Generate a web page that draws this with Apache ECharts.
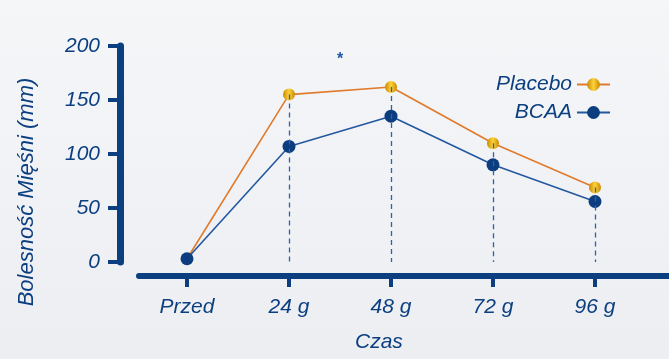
<!DOCTYPE html>
<html><head><meta charset="utf-8">
<script src="https://cdn.jsdelivr.net/npm/echarts@6/dist/echarts.min.js"></script>
<style>
html,body{margin:0;padding:0;}
body{background:linear-gradient(#f5f6f8,#eceef2);}
#c{width:669px;height:359px;}
</style></head>
<body><div id="c"></div>
<script>
const categories = ['Przed', '24 g', '48 g', '72 g', '96 g'];
const placebo = [3, 155, 162, 110, 69];
const bcaa = [3, 107, 135, 90, 56];
const yTicks = [0, 50, 100, 150, 200];
const seriesNames = ['Placebo', 'BCAA'];
const yName = 'Bolesność Mięśni (mm)';
const xName = 'Czas';

const NAVY = '#0c3f80';
const FONT = '"Liberation Sans", Arial, sans-serif';
const chart = echarts.init(document.getElementById('c'));

const dashData = categories.slice(1).map((c, i) => [
  { coord: [c, placebo[i + 1]] },
  { coord: [c, 0] }
]);

chart.setOption({
  backgroundColor: 'transparent',
  animation: false,
  grid: [
    { left: 136, right: 23, top: 46, bottom: 97 },
    { left: 139, right: 0, top: 46, bottom: 97 }
  ],
  xAxis: [
    {
      type: 'category', gridIndex: 0, data: categories, boundaryGap: true, offset: 14,
      axisLine: { show: false, onZero: false },
      axisTick: { show: true, alignWithLabel: true, length: 11, lineStyle: { color: NAVY, width: 4 } },
      axisLabel: { margin: 21, color: NAVY, fontFamily: FONT, fontStyle: 'italic', fontSize: 21 },
      splitLine: { show: false }
    },
    {
      type: 'category', gridIndex: 1, data: categories, offset: 14,
      axisLine: { show: true, onZero: false, lineStyle: { color: NAVY, width: 6 } },
      axisTick: { show: false }, axisLabel: { show: false }, splitLine: { show: false }
    }
  ],
  yAxis: [
    {
      type: 'value', gridIndex: 0, min: yTicks[0], max: yTicks[yTicks.length - 1], interval: 50, offset: 16,
      axisLine: { show: true, onZero: false, lineStyle: { color: NAVY, width: 7 } },
      axisTick: { show: true, length: 12, lineStyle: { color: NAVY, width: 4 } },
      axisLabel: { margin: 20, color: NAVY, fontFamily: FONT, fontStyle: 'italic', fontSize: 21 },
      splitLine: { show: false }
    },
    { type: 'value', gridIndex: 1, show: false, min: 0, max: 200 }
  ],
  legend: {
    orient: 'vertical', right: 58, top: 74, align: 'right', itemGap: 7, padding: 0,
    itemWidth: 33, itemHeight: 16,
    data: seriesNames,
    textStyle: { color: NAVY, fontFamily: FONT, fontStyle: 'italic', fontSize: 21, padding: [0, 0, 0, 0] }
  },
  title: {
    text: xName, left: 350, top: 327,
    textStyle: { color: NAVY, fontFamily: FONT, fontStyle: 'italic', fontSize: 21, fontWeight: 'normal' }
  },
  graphic: [
    { type: 'text', x: 27, y: 192, rotation: Math.PI / 2,
      style: { text: yName, fill: NAVY, font: 'italic 22px ' + FONT, align: 'center', verticalAlign: 'middle' } },
    { type: 'text', x: 340, y: 60,
      style: { text: '*', fill: '#1f56a6', font: 'bold 16px "Liberation Sans"', align: 'center', verticalAlign: 'middle' } }
  ],
  series: [
    {
      name: 'dash', type: 'line', data: placebo, xAxisIndex: 0, yAxisIndex: 0, z: 1,
      symbol: 'none', lineStyle: { opacity: 0 }, silent: true,
      markLine: {
        symbol: 'none', silent: true, label: { show: false },
        lineStyle: { color: '#2a62b0', width: 1.3, type: [5, 4] },
        data: dashData
      }
    },
    {
      name: seriesNames[0], type: 'line', data: placebo, z: 3,
      symbol: 'circle', symbolSize: 12,
      lineStyle: { color: '#e07a2c', width: 1.6 },
      itemStyle: {
        color: new echarts.graphic.LinearGradient(0, 0, 1, 0, [
          { offset: 0, color: '#c88a00' }, { offset: 0.5, color: '#ffd23a' }, { offset: 1, color: '#c88a00' }
        ]),
        borderWidth: 0
      }
    },
    {
      name: seriesNames[1], type: 'line', data: bcaa, z: 4,
      symbol: 'circle', symbolSize: 13,
      lineStyle: { color: '#2358a0', width: 1.6 },
      itemStyle: { color: '#0b3d7f', borderWidth: 0 }
    }
  ]
});
</script></body></html>
